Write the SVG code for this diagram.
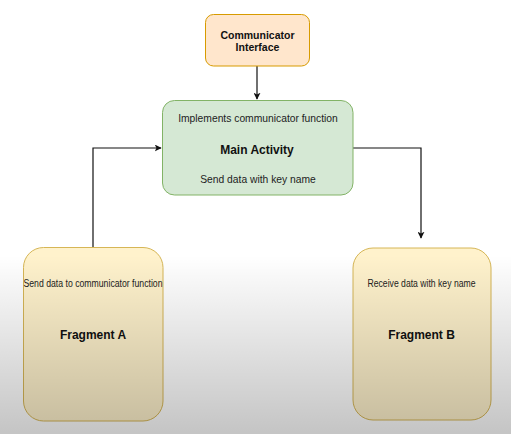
<svg xmlns="http://www.w3.org/2000/svg" width="511" height="434" viewBox="0 0 511 434">
<style>
.t{font-family:"Liberation Sans",Arial,sans-serif;fill:#222;text-anchor:middle}
.b{font-weight:bold;fill:#111}
.edge{fill:none;stroke:#111;stroke-width:1.2}
</style>
<defs>
<marker id="arr" viewBox="0 0 10 10" refX="9" refY="5" markerWidth="7" markerHeight="7" orient="auto" markerUnits="userSpaceOnUse">
<path d="M0,0 L10,5 L0,10 L2.5,5 z" fill="#111"/>
</marker>
<linearGradient id="shade" x1="0" y1="0" x2="0" y2="1">
<stop offset="0" stop-color="#000" stop-opacity="0"/>
<stop offset="1" stop-color="#000" stop-opacity="0.23"/>
</linearGradient>
</defs>
<rect width="511" height="434" fill="#fff"/>
<g id="connectors">
<path class="edge" d="M257,66 V99" marker-end="url(#arr)"/>
<path class="edge" d="M93,247 V148 H161" marker-end="url(#arr)"/>
<path class="edge" d="M353,148 H421 V238" marker-end="url(#arr)"/>
</g>
<g id="communicator-interface">
<rect x="205.5" y="14.5" width="104" height="51.5" rx="8" fill="#ffe6cc" stroke="#d79b00"/>
<text class="t b" x="257.5" y="39" font-size="10.5">Communicator</text>
<text class="t b" x="257.5" y="51" font-size="10.5">Interface</text>
</g>
<g id="main-activity">
<rect x="162.5" y="100.5" width="190.5" height="94.5" rx="12" fill="#d5e8d4" stroke="#82b366"/>
<text class="t" x="258" y="122" font-size="10.3">Implements communicator function</text>
<text class="t b" x="257" y="153.5" font-size="12">Main Activity</text>
<text class="t" x="258" y="183" font-size="10.3">Send data with key name</text>
</g>
<g id="fragment-a">
<rect x="23.5" y="247.5" width="139.5" height="173.5" rx="20" fill="#fff2cc" stroke="#d6b656"/>
<text class="t" x="93" y="286.5" font-size="10" textLength="139" lengthAdjust="spacingAndGlyphs">Send data to communicator function</text>
<text class="t b" x="93" y="339" font-size="12">Fragment A</text>
</g>
<g id="fragment-b">
<rect x="353" y="248" width="138" height="172" rx="20" fill="#fff2cc" stroke="#d6b656"/>
<text class="t" x="421.5" y="286.5" font-size="10" textLength="108" lengthAdjust="spacingAndGlyphs">Receive data with key name</text>
<text class="t b" x="421.5" y="338.5" font-size="12">Fragment B</text>
</g>
<rect x="0" y="255" width="511" height="179" fill="url(#shade)"/>
</svg>
